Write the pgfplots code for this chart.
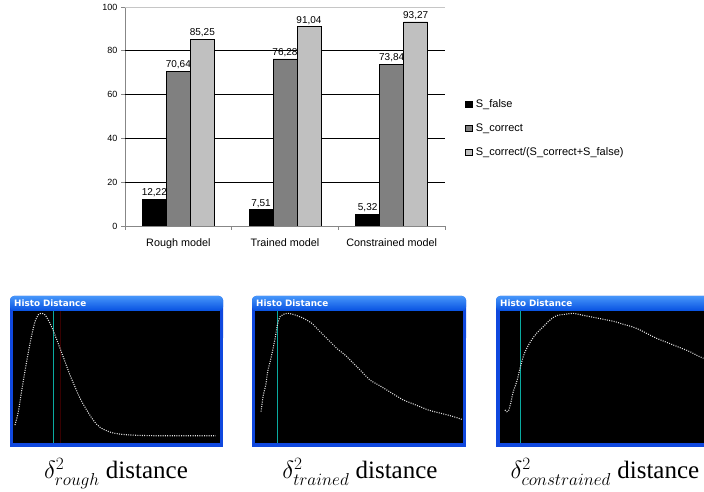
\documentclass[border=0pt]{standalone}
\usepackage{fontspec}
\setmainfont{Liberation Serif}
\newfontfamily\arial{Liberation Sans}
\newfontfamily\tahoma{DejaVu Sans}
\usepackage{pgfplots}
\pgfplotsset{compat=1.18}
\definecolor{barB}{RGB}{128,128,128}
\definecolor{barC}{RGB}{192,192,192}
\definecolor{axgray}{RGB}{135,135,135}
\definecolor{xpframe}{RGB}{16,72,222}
\definecolor{xpL}{RGB}{70,150,250}
\definecolor{xpD}{RGB}{6,80,225}
\definecolor{tealline}{RGB}{10,170,160}
\definecolor{curvecol}{RGB}{225,225,225}
\pgfplotsset{sqlegend/.style={legend image code/.code={\draw[##1,draw=black,line width=0.4pt] (0pt,-3.3pt) rectangle (6.6pt,3.3pt);}}}
\pgfplotsset{histo/.style={scale only axis, hide axis, xmin=0, xmax=100, ymin=0, ymax=100, clip=false, anchor=south west, height=127.7pt}}
\pgfplotsset{curve/.style={draw=curvecol, line width=1.1pt, dash pattern=on 1pt off 1.3pt, smooth}}
\begin{document}
\begin{tikzpicture}[x=1pt,y=1pt]
\useasboundingbox (0,0) rectangle (704,492);
\begin{axis}[
  scale only axis, width=320pt, height=219pt,
  at={(125pt,266pt)}, anchor=south west,
  xmin=-0.5, xmax=2.5, ymin=0, ymax=100,
  axis x line*=bottom, axis y line*=left,
  axis line style={draw=axgray, line width=0.7pt, -},
  tick align=outside, major tick length=4pt,
  tick style={draw=axgray, line width=0.7pt},
  ytick={0,20,40,60,80,100},
  yticklabel style={font=\arial\fontsize{9}{10}\selectfont},
  xtick={-0.5,0.5,1.5,2.5}, xticklabels={},
  extra x ticks={0,1,2},
  extra x tick labels={Rough model,Trained model,Constrained model},
  extra x tick style={major tick length=0pt, xticklabel style={font=\arial\fontsize{10.8}{12}\selectfont, yshift=-9pt}},
  extra y ticks={20,40,60,80}, extra y tick labels={},
  extra y tick style={grid=major, major grid style={black, line width=0.6pt}, major tick length=0pt},
  /pgf/number format/assume math mode=true,
  ybar=0pt, bar width=24pt,
  nodes near coords={\pgfmathprintnumber[fixed,fixed zerofill,precision=2,use comma]{\pgfplotspointmeta}},
  every node near coord/.append style={font=\arial\fontsize{10}{12}\selectfont, inner sep=2pt},
  legend style={at={(1.0625,0.585)}, anchor=north west, draw=none, fill=none,
    font=\arial\fontsize{11}{12}\selectfont, row sep=12.3pt, inner sep=0pt, column sep=0pt,
    nodes={inner sep=1.2pt}},
  legend cell align=left,
]
\addplot[fill=black, draw=black, sqlegend] coordinates {(0,12.22) (1,7.51) (2,5.32)};
\addplot[fill=barB, draw=black, sqlegend] coordinates {(0,70.64) (1,76.28) (2,73.84)};
\addplot[fill=barC, draw=black, sqlegend] coordinates {(0,85.25) (1,91.04) (2,93.27)};
\legend{\hspace{2.5pt}S\_false, \hspace{2.5pt}S\_correct, \hspace{2.5pt}S\_correct/(S\_correct+S\_false)}
\draw[gray!45, line width=0.7pt] (axis cs:-0.5,100) -- (axis cs:2.5,100);
\end{axis}
% ---------- panel frames ----------
\fill[xpframe, rounded corners=4pt] (10,150) rectangle (223,196);
\fill[xpframe] (10,45) rectangle (223,180);
\shade[top color=xpL, bottom color=xpD, rounded corners=4pt] (10,181) rectangle (223,196);
\fill[black] (13,49) rectangle (220,181);
\node[anchor=west, text=white, font=\tahoma\bfseries\fontsize{8.8}{10}\selectfont, inner sep=0pt] at (14,188.5) {Histo Distance};
\fill[xpframe, rounded corners=4pt] (252,150) rectangle (466,196);
\fill[xpframe] (252,45) rectangle (466,180);
\shade[top color=xpL, bottom color=xpD, rounded corners=4pt] (252,181) rectangle (466,196);
\fill[black] (255,49) rectangle (463,181);
\node[anchor=west, text=white, font=\tahoma\bfseries\fontsize{8.8}{10}\selectfont, inner sep=0pt] at (256,188.5) {Histo Distance};
\fill[xpframe, rounded corners=4pt] (496,150) rectangle (712,196);
\fill[xpframe] (496,45) rectangle (712,180);
\shade[top color=xpL, bottom color=xpD, rounded corners=4pt] (496,181) rectangle (712,196);
\fill[black] (500,49) rectangle (712,181);
\node[anchor=west, text=white, font=\tahoma\bfseries\fontsize{8.8}{10}\selectfont, inner sep=0pt] at (500,188.5) {Histo Distance};
% ---------- panel 1 ----------
\begin{axis}[histo, at={(13.3pt,52pt)}, width=206.7pt]
\draw[draw={rgb,255:red,55;green,0;blue,0}, line width=0.5pt] (axis cs:22.6,-2.3) -- (axis cs:22.6,101);
\draw[draw=tealline, line width=1.5pt] (axis cs:19.4,-2.3) -- (axis cs:19.4,101);
\addplot[curve] coordinates {
(0.8,11.7) (2.4,22) (4,38) (5.6,53.5) (7.3,69) (8.9,82) (10.5,92.7) (12.1,98) (13.7,99.2)
(15.3,98) (16.9,94) (18.5,88.8) (20.2,82) (22.6,71.8) (25,61.4) (27.4,51) (29.8,41.8)
(32.3,32.6) (35.5,23.5) (38.7,15.5) (41.9,10) (46.8,6.2) (51.6,4.6) (58,3.8) (66,3.4) (74,3.3) (85,3.3) (98,3.3)};
\end{axis}
% ---------- panel 2 ----------
\begin{axis}[histo, at={(256.7pt,52pt)}, width=206.7pt]
\draw[draw=tealline, line width=1.5pt] (axis cs:10,-2.3) -- (axis cs:10,101);
\addplot[curve] coordinates {
(2.1,22.2) (3.2,35.2) (4.4,43.1) (5.3,53.5) (6.5,61.4) (7.6,69.2) (8.9,79.6) (10,90)
(11.3,96.6) (12.9,98.4) (15.3,99.2) (18.5,97.9) (22.6,95.3) (26.6,91.4) (30.6,84.9)
(34.7,78.3) (38.7,71.8) (42.7,66.6) (46.8,60) (50.8,53.5) (54.8,47) (58.9,43.1)
(62.9,39.2) (66.9,35.2) (71,31.3) (75,28.7) (79,26.1) (83,23.5) (87.1,21.7)
(91.1,20.1) (95.2,18.3) (99.2,16.2)};
\end{axis}
% ---------- panel 3 ----------
\begin{axis}[histo, at={(500.7pt,52pt)}, width=203.3pt]
\draw[draw=tealline, line width=1.5pt] (axis cs:9.8,-2.3) -- (axis cs:9.8,101);
\addplot[curve] coordinates {
(2.1,23.5) (3,22.2) (3.8,22.7) (4.9,28.7) (6.2,37.9) (7.9,45.7) (9.5,56.1) (11.1,65.3)
(12.8,71.8) (15.2,78.3) (17.7,83.6) (21,88.8) (24.3,94) (27.5,97.4) (31.6,98.4)
(35.7,99.2) (39.8,97.9) (43.9,96.6) (48,95.3) (52.1,94) (56.2,92.7) (60.3,90.6)
(64.4,88.8) (68.5,86.2) (72.6,82.8) (76.7,79.6) (80.8,77) (84.9,74.4) (89,71.8)
(93,69.2) (97.1,65.8) (99.7,64)};
\end{axis}
% ---------- captions ----------
\node[anchor=base, font=\fontsize{25}{28}\selectfont, inner sep=0pt] at (116,13) {$\delta^2_{rough}$ distance};
\node[anchor=base, font=\fontsize{25}{28}\selectfont, inner sep=0pt] at (360,13) {$\delta^2_{trained}$ distance};
\node[anchor=base, font=\fontsize{25}{28}\selectfont, inner sep=0pt] at (605,13) {$\delta^2_{constrained}$ distance};
\end{tikzpicture}
\end{document}
